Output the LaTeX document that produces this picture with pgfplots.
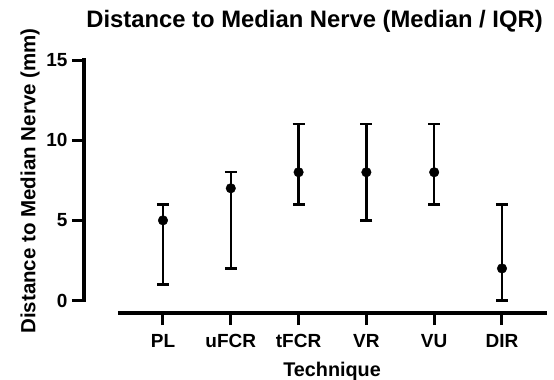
\documentclass[border=0pt]{standalone}
\usepackage{fontspec}
\setmainfont{Liberation Sans}
\usepackage{pgfplots}
\pgfplotsset{compat=1.18}
\begin{document}
\begin{tikzpicture}
\useasboundingbox (0,0) rectangle (554pt,-380pt);
\begin{axis}[
  at={(84pt,-313pt)}, anchor=south west,
  scale only axis, width=463pt, height=253pt,
  xmin=-1.165, xmax=5.664, ymin=-0.78, ymax=15,
  clip=false,
  axis lines*=left,
  axis line style={draw=none},
  tick align=outside,
  major tick length=12pt,
  every tick/.style={black, line width=3pt},
  xtick={0,1,2,3,4,5},
  xticklabels={PL,uFCR,tFCR,VR,VU,DIR},
  ytick={0,5,10,15},
  minor tick num=0,
  /pgf/number format/assume math mode=true,
  ticklabel style={font=\bfseries\fontsize{19}{19}\selectfont},
  xticklabel style={yshift=-6pt},
  yticklabel style={xshift=-1pt},
  title={Distance to Median Nerve (Median / IQR)},
  title style={at={(axis description cs:0.498,1.103)}, anchor=base, font=\bfseries\fontsize{23.8}{23.8}\selectfont},
  xlabel={Technique},
  xlabel style={at={(axis description cs:0.5357,-0.25)}, anchor=base, font=\bfseries\fontsize{19.8}{19.8}\selectfont},
  ylabel={Distance to Median Nerve (mm)},
  ylabel style={at={(axis description cs:-0.1166,0.5217)}, anchor=center, rotate=0, font=\bfseries\fontsize{20.5}{20.5}\selectfont},
]
\draw[line width=3.4pt, line cap=rect] (axis cs:-1.165,0) -- (axis cs:-1.165,15);
\draw[line width=3.4pt] (axis cs:-0.664,-0.78) -- (axis cs:5.664,-0.78);
\addplot[black, only marks, mark=*, mark size=4.8pt,
  error bars/.cd, y dir=both, y explicit,
  error bar style={line width=2.4pt, black},
  error mark options={line width=2.4pt, mark size=6pt, black, rotate=90}]
coordinates {
  (0,5) += (0,1) -= (0,4)
  (1,7) += (0,1) -= (0,5)
  (2,8) += (0,3) -= (0,2)
  (3,8) += (0,3) -= (0,3)
  (4,8) += (0,3) -= (0,2)
  (5,2) += (0,4) -= (0,2)
};
\end{axis}
\end{tikzpicture}
\end{document}
